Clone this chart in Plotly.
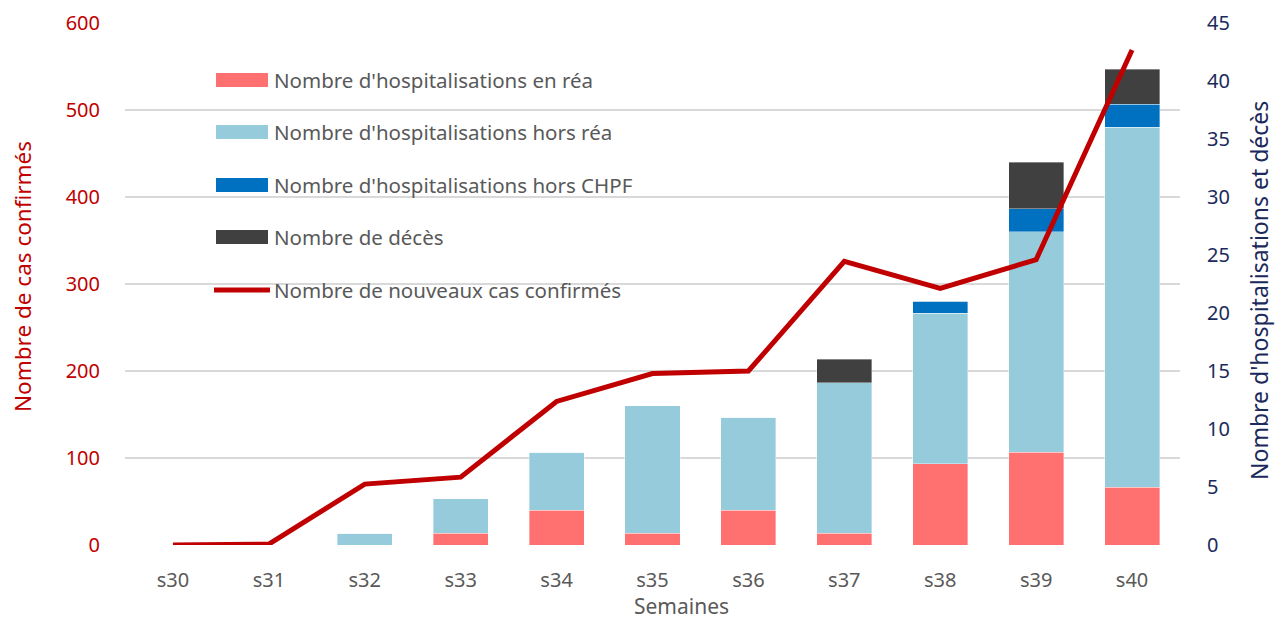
import plotly.graph_objects as go

semaines = ["s30", "s31", "s32", "s33", "s34", "s35", "s36", "s37", "s38", "s39", "s40"]
hosp_rea = [0, 0, 0, 1, 3, 1, 3, 1, 7, 8, 5]
hosp_hors_rea = [0, 0, 1, 3, 5, 11, 8, 13, 13, 19, 31]
hosp_hors_chpf = [0, 0, 0, 0, 0, 0, 0, 0, 1, 2, 2]
deces = [0, 0, 0, 0, 0, 0, 0, 2, 0, 4, 3]
nouveaux_cas = [0, 1, 70, 78, 165, 197, 200, 326, 295, 328, 569]

bar_series = [
    ("Nombre d'hospitalisations en réa", hosp_rea, "#FF7171"),
    ("Nombre d'hospitalisations hors réa", hosp_hors_rea, "#96CBDC"),
    ("Nombre d'hospitalisations hors CHPF", hosp_hors_chpf, "#0070C0"),
    ("Nombre de décès", deces, "#404040"),
]
line_name = "Nombre de nouveaux cas confirmés"
line_color = "#C00000"
right_color = "#1B2A5C"
grey = "#595959"
font_family = "Noto Sans, Open Sans, sans-serif"

W, H = 1282, 621
L, R, T, B = 125, 102, 23, 76
pw, ph = W - L - R, H - T - B


def px_to_paper(x, y):
    return (x - L) / pw, 1 - (y - T) / ph


fig = go.Figure()
for name, vals, col in bar_series:
    fig.add_trace(go.Bar(
        x=semaines, y=vals, name=name, yaxis="y",
        marker=dict(color=col, line=dict(color="rgba(255,255,255,0.6)", width=0.6)),
        showlegend=False,
    ))
fig.add_trace(go.Scatter(
    x=semaines, y=nouveaux_cas, name=line_name, mode="lines", yaxis="y2",
    line=dict(color=line_color, width=5), showlegend=False,
))

# manual legend (wide swatches as in the original)
leg_x0, leg_x1 = 216, 268
leg_rows = [80, 132, 185, 237, 290]
items = [(n, c, "bar") for n, _, c in bar_series] + [(line_name, line_color, "line")]
for (name, col, kind), yr in zip(items, leg_rows):
    if kind == "bar":
        xa, ya = px_to_paper(leg_x0, yr - 7)
        xb, yb = px_to_paper(leg_x1, yr + 7)
        fig.add_shape(type="rect", xref="paper", yref="paper", x0=xa, x1=xb, y0=yb, y1=ya,
                      fillcolor=col, line=dict(width=0))
    else:
        x_a, y_m = px_to_paper(leg_x0 - 2, yr)
        x_b, _ = px_to_paper(leg_x1 + 2, yr)
        fig.add_shape(type="line", xref="paper", yref="paper", x0=x_a, x1=x_b, y0=y_m, y1=y_m,
                      line=dict(color=col, width=5))
    tx, ty = px_to_paper(leg_x1 + 4, yr)
    fig.add_annotation(x=tx, y=ty, xref="paper", yref="paper", text=name, showarrow=False,
                       xanchor="left", yanchor="middle",
                       font=dict(family=font_family, size=20.5, color=grey))

# axis titles
ax, ay = px_to_paper(22, 277)
fig.add_annotation(x=ax, y=ay, xref="paper", yref="paper", text="Nombre de cas confirmés",
                   showarrow=False, textangle=-90, xanchor="center", yanchor="middle",
                   font=dict(family=font_family, size=22.5, color=line_color))
ax, ay = px_to_paper(1259, 291)
fig.add_annotation(x=ax, y=ay, xref="paper", yref="paper", text="Nombre d'hospitalisations et décès",
                   showarrow=False, textangle=-90, xanchor="center", yanchor="middle",
                   font=dict(family=font_family, size=23, color=right_color))
ax, ay = px_to_paper(681, 606)
fig.add_annotation(x=ax, y=ay, xref="paper", yref="paper", text="Semaines",
                   showarrow=False, xanchor="center", yanchor="middle",
                   font=dict(family=font_family, size=21, color=grey))

fig.update_layout(
    width=W, height=H,
    margin=dict(l=L, r=R, t=T, b=B, autoexpand=False),
    barmode="stack", bargap=0.426,
    plot_bgcolor="white", paper_bgcolor="white",
    font=dict(family=font_family),
    hovermode=False,
    xaxis=dict(
        type="category", showgrid=False, showline=False, zeroline=False,
        ticks="outside", ticklen=17, tickcolor="rgba(0,0,0,0)",
        tickfont=dict(size=20, color=grey),
    ),
    yaxis=dict(
        range=[0, 45], dtick=5, side="right", showgrid=False,
        zeroline=False, showline=False,
        ticks="outside", ticklen=22, tickcolor="rgba(0,0,0,0)",
        tickfont=dict(size=20, color=right_color),
    ),
    yaxis2=dict(
        range=[0, 600], dtick=100, overlaying="y", side="left",
        showgrid=True, gridcolor="#D9D9D9", gridwidth=1.5,
        zeroline=False, showline=False,
        ticks="outside", ticklen=20, tickcolor="rgba(0,0,0,0)",
        tickfont=dict(size=20, color=line_color),
    ),
)

fig.write_html("out.html", config={"displayModeBar": False},
               post_script="document.body.style.margin='0';")
